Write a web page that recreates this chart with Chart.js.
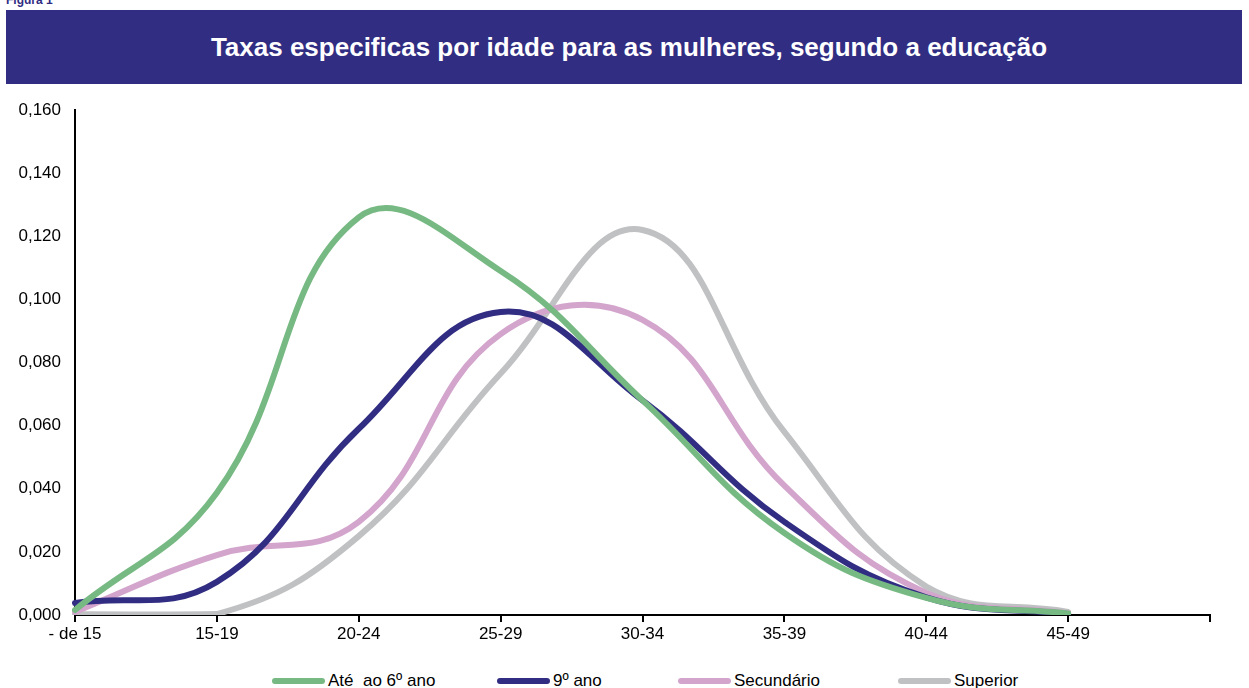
<!DOCTYPE html>
<html lang="pt">
<head>
<meta charset="utf-8">
<title>Taxas especificas por idade para as mulheres, segundo a educação</title>
<script src="https://cdn.jsdelivr.net/npm/chart.js@4.4.1/dist/chart.umd.min.js"></script>
<style>
  html, body { margin: 0; padding: 0; background: #fff; overflow: hidden; }
  body { width: 1249px; height: 688px; position: relative; font-family: "Liberation Sans", Arial, sans-serif; }
  #figura { position: absolute; left: 6px; top: -7px; font-size: 12px; font-weight: bold; color: #312D82; }
  #titulo {
    position: absolute; left: 6px; top: 10px; width: 1236px; height: 74px;
    background: #312D82; color: #fff; font-weight: bold; font-size: 26px;
    display: flex; align-items: center; justify-content: center;
    box-sizing: border-box; padding-left: 10px;
  }
  #wrap { position: absolute; left: 0; top: 0; width: 1249px; height: 660px; }
  #legenda { position: absolute; left: 0; top: 671px; width: 1249px; height: 18px; font-size: 17px; color: #000; }
  .item { position: absolute; top: 0; display: flex; align-items: center; height: 20px; white-space: pre; }
  .item span.linha { display: inline-block; width: 53px; height: 6px; border-radius: 3px; margin-right: 3px; }
</style>
</head>
<body>
<div id="figura">Figura 1</div>
<div id="titulo">Taxas especificas por idade para as mulheres, segundo a educação</div>
<div id="wrap"><canvas id="grafico" width="1249" height="660"></canvas></div>
<div id="legenda"></div>

<script>
// Grupos etários (o último fica vazio, como no original)
const faixas = ['- de 15', '15-19', '20-24', '25-29', '30-34', '35-39', '40-44', '45-49', ''];

// Taxas por nível de educação
const ate6ano    = [0.0016, 0.0387, 0.126, 0.109, 0.068, 0.026, 0.0054, 0.0005];
const nono       = [0.0038, 0.0105, 0.059, 0.096, 0.068, 0.0295, 0.0056, 0.0003];
const secundario = [0.001, 0.019, 0.0295, 0.089, 0.0935, 0.041, 0.007, 0.0005];
const superior   = [0.0002, 0.0003, 0.025, 0.0765, 0.122, 0.058, 0.009, 0.001];

const nomes = ['Até  ao 6º ano', '9º ano', 'Secundário', 'Superior'];
const cores = ['#77B983', '#312D82', '#D3A5CD', '#C0C1C3'];
const legendaX = [272, 497, 678, 898];

const series = [ate6ano, nono, secundario, superior];

const fonte = '"Liberation Sans", Arial, sans-serif';

const datasets = series.map((valores, i) => ({
    label: nomes[i],
    data: valores,
    borderColor: cores[i],
    backgroundColor: cores[i],
    borderWidth: 6,
    pointRadius: 0,
    tension: 0.42,
    fill: false,
    borderCapStyle: 'round'
}));

new Chart(document.getElementById('grafico'), {
    type: 'line',
    data: { labels: faixas, datasets: datasets },
    options: {
        responsive: false,
        animation: false,
        layout: { padding: { top: 110, right: 39, left: 0, bottom: 0 } },
        plugins: {
            legend: { display: false },
            tooltip: { enabled: false }
        },
        scales: {
            x: {
                offset: false,
                grid: { display: true, drawOnChartArea: false, drawTicks: true, tickLength: 7, color: '#000', lineWidth: 2 },
                border: { display: true, color: '#000', width: 2 },
                ticks: { color: '#000', font: { family: fonte, size: 17 }, padding: 2, maxRotation: 0, autoSkip: false },
                afterFit: (s) => { s.height = 45; }
            },
            y: {
                min: 0,
                max: 0.16,
                grid: { display: false, drawTicks: false },
                border: { display: true, color: '#000', width: 2 },
                ticks: {
                    stepSize: 0.02,
                    color: '#000',
                    padding: 14,
                    font: { family: fonte, size: 17 },
                    callback: (v) => v.toFixed(3).replace('.', ',')
                },
                afterFit: (s) => { s.width = 75; }
            }
        }
    }
});

// Legenda em HTML
const legenda = document.getElementById('legenda');
nomes.forEach((nome, i) => {
    const item = document.createElement('div');
    item.className = 'item';
    item.style.left = legendaX[i] + 'px';
    const linha = document.createElement('span');
    linha.className = 'linha';
    linha.style.background = cores[i];
    const texto = document.createElement('span');
    texto.textContent = nome;
    item.appendChild(linha);
    item.appendChild(texto);
    legenda.appendChild(item);
});
</script>
</body>
</html>
